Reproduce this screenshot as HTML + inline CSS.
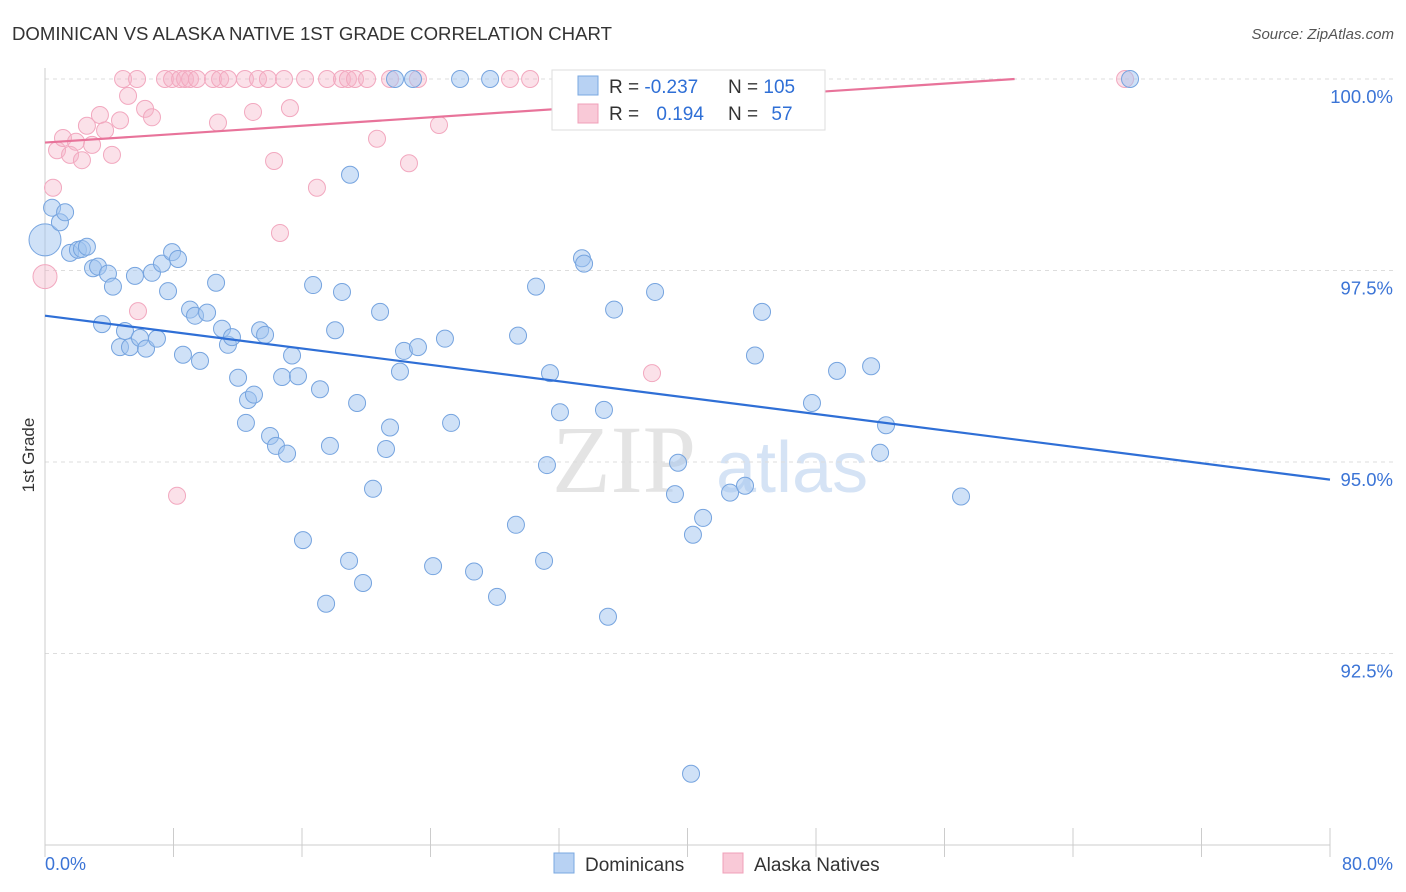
<!DOCTYPE html>
<html><head><meta charset="utf-8"><style>
body{margin:0;background:#fff;font-family:"Liberation Sans",sans-serif;}
svg{display:block}
</style></head><body>
<svg id="chart" width="1406" height="892">
<text x="12" y="40" font-size="18.6" fill="#333">DOMINICAN VS ALASKA NATIVE 1ST GRADE CORRELATION CHART</text>
<text x="1394" y="39" font-size="15" fill="#555" font-style="italic" text-anchor="end">Source: ZipAtlas.com</text>
<text transform="translate(34,455) rotate(-90)" font-size="17" fill="#333" text-anchor="middle">1st Grade</text>
<g>
<text x="552" y="492" font-size="96" fill="#e4e4e4" font-family="Liberation Serif,serif">ZIP</text>
<text x="716" y="492" font-size="72" fill="#d5e3f5">atlas</text>
</g>
<g id="grid"></g><g id="axes"></g><g id="marks"></g><g id="lines"></g>
<g>
<rect x="552" y="70" width="273" height="60" fill="#fff" stroke="#ddd"/>
<rect x="578" y="76" width="20" height="19" fill="#b8d2f3" stroke="#7aa8e0"/>
<rect x="578" y="104" width="20" height="19" fill="#f9c9d7" stroke="#f0a0b8"/>
<text x="609" y="93" font-size="19" fill="#333">R = <tspan fill="#2f6fd6">-0.237</tspan></text>
<text x="728" y="93" font-size="19" fill="#333">N = <tspan fill="#2f6fd6">105</tspan></text>
<text x="609" y="120" font-size="19" fill="#333">R = <tspan fill="#2f6fd6" dx="12">0.194</tspan></text>
<text x="728" y="120" font-size="19" fill="#333">N = <tspan fill="#2f6fd6" dx="8">57</tspan></text>
</g>
<g>
<rect x="554" y="853" width="20" height="20" fill="#b8d2f3" stroke="#7aa8e0"/>
<text x="585" y="871" font-size="19" fill="#333">Dominicans</text>
<rect x="723" y="853" width="20" height="20" fill="#f9c9d7" stroke="#f0a0b8"/>
<text x="754" y="871" font-size="19" fill="#333">Alaska Natives</text>
</g>
</svg>
<script>
const blueX=[0,0.44,0.93,1.25,1.56,2.05,2.30,2.61,2.99,3.30,3.92,4.23,3.55,4.98,4.67,5.29,5.91,6.29,6.97,5.60,6.66,7.28,7.91,8.28,7.66,8.59,9.03,9.34,9.65,10.09,10.65,11.02,11.39,11.64,12.02,12.51,12.64,13.01,13.39,13.70,14.01,14.38,14.76,15.07,15.38,15.75,16.06,16.69,17.12,17.50,17.74,18.06,18.49,18.93,18.99,19.43,19.80,20.42,20.86,21.23,21.48,22.10,22.35,23.22,24.16,24.90,25.28,26.71,28.14,29.32,29.45,30.57,31.07,31.25,31.44,32.06,33.43,33.56,34.80,35.05,35.43,37.98,39.22,39.41,40.22,40.34,40.97,42.65,43.58,44.20,44.64,47.75,49.31,51.43,51.99,52.36,57.03,67.55,21.79,22.91,25.84,27.71,32.56];
const blueY=[97.90,98.32,98.13,98.26,97.73,97.77,97.78,97.81,97.53,97.55,97.46,97.29,96.80,96.71,96.50,96.50,96.62,96.48,96.61,97.43,97.47,97.59,97.74,97.65,97.23,96.40,96.99,96.91,96.32,96.95,97.34,96.74,96.53,96.63,96.10,95.51,95.81,95.88,96.72,96.66,95.34,95.21,96.11,95.11,96.39,96.12,93.98,97.31,95.95,93.15,95.21,96.72,97.22,93.71,98.75,95.77,93.42,94.65,96.96,95.17,95.45,96.18,96.45,96.50,93.64,96.61,95.51,93.57,93.24,94.18,96.65,97.29,93.71,94.96,96.16,95.65,97.66,97.59,95.68,92.98,96.99,97.22,94.58,94.99,90.93,94.05,94.27,94.60,94.69,96.39,96.96,95.77,96.19,96.25,95.12,95.48,94.55,100,100,100,100,100,100];
const pinkX=[0,0.50,0.75,1.12,1.56,1.93,2.30,2.61,2.93,3.42,3.74,4.17,4.67,4.86,5.17,5.73,6.23,6.66,5.79,7.47,7.91,8.41,8.72,9.03,9.46,8.22,10.46,10.90,10.77,11.39,12.45,12.95,13.26,13.88,14.26,14.63,14.88,15.25,16.19,16.93,17.56,18.49,18.86,19.30,20.05,20.67,21.48,22.66,23.22,24.53,28.95,30.20,37.79,43.27,44.83,67.24];
const pinkY=[97.42,98.58,99.07,99.23,99.01,99.18,98.94,99.39,99.14,99.53,99.33,99.01,99.46,100,99.78,100,99.61,99.50,96.97,100,100,100,100,100,100,94.56,100,100,99.43,100,100,99.57,100,100,98.93,97.99,100,99.62,100,98.58,100,100,100,100,100,99.22,100,98.90,100,99.40,100,100,96.16,100,100,100];
const yTicks=[100,97.5,95,92.5];
const yTickLabels=["100.0%","97.5%","95.0%","92.5%"];
const blueTrend=[96.91,94.77];
const pinkTrend=[99.17,100.27];
const NS="http://www.w3.org/2000/svg";
function sx(v){return 45+(v/80)*1285;}
function sy(v){return 79+(100-v)*76.6;}
function mk(tag,attrs,parent){const e=document.createElementNS(NS,tag);for(const k in attrs)e.setAttribute(k,attrs[k]);parent.appendChild(e);return e;}
const grid=document.getElementById('grid'),axes=document.getElementById('axes'),marks=document.getElementById('marks'),lines=document.getElementById('lines');
yTicks.forEach((t,i)=>{
 const l=mk('line',{x1:45,x2:1394,y1:sy(t),y2:sy(t),stroke:'#ddd','stroke-dasharray':'4,4'},grid);
 
 
 const tx=mk('text',{x:1393,y:sy(t)+24,'font-size':18.5,fill:'#3b74d6','text-anchor':'end'},axes);
 tx.textContent=yTickLabels[i];
 
 
});
let a=mk('line',{x1:45,x2:45,y1:68,y2:845,stroke:'#ccc'},axes);


a=mk('line',{x1:45,x2:1330,y1:845,y2:845,stroke:'#ccc'},axes);


for(let i=0;i<=10;i++){const tk=mk('line',{x1:sx(i*8),x2:sx(i*8),y1:828,y2:857,stroke:'#ccc'},axes);
 
 }
let t1=mk('text',{x:45,y:870,'font-size':18,fill:'#3b74d6'},axes);t1.textContent='0.0%';


let t2=mk('text',{x:1393,y:870,'font-size':18,fill:'#3b74d6','text-anchor':'end'},axes);t2.textContent='80.0%';


pinkX.forEach((x,i)=>{const c=mk('circle',{cx:sx(x),cy:sy(pinkY[i]),r:i===0?12:8.5,fill:'rgba(246,180,200,0.4)',stroke:'#f2a8bf','stroke-width':1},marks);
 
 });
blueX.forEach((x,i)=>{const c=mk('circle',{cx:sx(x),cy:sy(blueY[i]),r:i===0?16:8.5,fill:'rgba(160,196,240,0.5)',stroke:'#76a4df','stroke-width':1},marks);
 
 });
let bl=mk('line',{x1:sx(0),y1:sy(blueTrend[0]),x2:sx(80),y2:sy(blueTrend[1]),stroke:'#2f6fd6','stroke-width':2.2},lines);


const pslope=(pinkTrend[1]-pinkTrend[0])/80;
const pxEnd=Math.min(80,(100-pinkTrend[0])/pslope);
let pl=mk('line',{x1:sx(0),y1:sy(pinkTrend[0]),x2:sx(pxEnd),y2:sy(pinkTrend[0]+pslope*pxEnd),stroke:'#e8739a','stroke-width':2.2},lines);


</script>
</body></html>
